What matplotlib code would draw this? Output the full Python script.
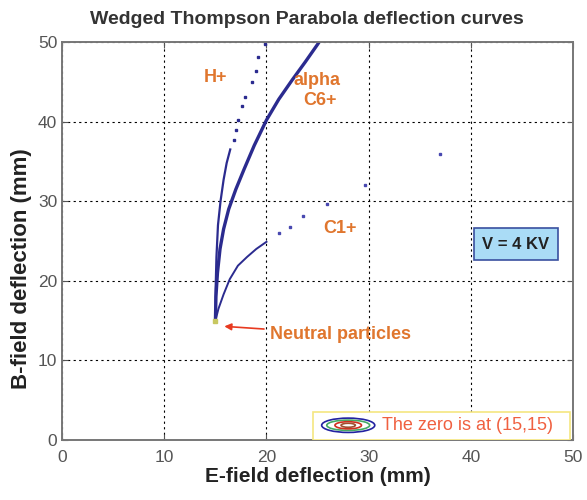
import numpy as np
import matplotlib
matplotlib.use('Agg')
import matplotlib.pyplot as plt
from matplotlib.patches import Ellipse, Rectangle

plt.rcParams['font.family'] = ['Liberation Sans', 'DejaVu Sans']

# H+ curve (dense lower part, sparse dots on top)
hp_e = [15.0, 15.02, 15.1, 15.25, 15.5, 15.8, 16.1, 16.45]
hp_b = [15.0, 19.0, 23.0, 27.0, 30.0, 32.7, 34.8, 36.5]
hp_e_dots = [16.8, 17.0, 17.25, 17.6, 17.9, 18.6, 19.0, 19.2, 19.9]
hp_b_dots = [37.7, 38.9, 40.2, 41.9, 43.1, 45.0, 46.3, 48.1, 49.7]

# alpha / C6+ curve (same q/m)
al_e = [15.0, 15.05, 15.2, 15.45, 15.8, 16.3, 17.0, 17.8, 18.8, 20.0, 21.2, 22.5, 23.8, 25.0, 25.3]
al_b = [15.0, 18.0, 21.0, 24.0, 26.5, 29.0, 31.5, 34.0, 37.0, 40.2, 42.8, 45.2, 47.5, 49.7, 50.3]

# C1+ curve
c1_e = [15.0, 15.3, 15.8, 16.4, 17.2, 18.1, 19.0, 20.0]
c1_b = [15.0, 16.5, 18.3, 20.2, 21.9, 23.0, 24.0, 24.9]
c1_e_dots = [21.2, 22.3, 23.6, 25.9, 29.6, 37.0]
c1_b_dots = [26.0, 26.8, 28.1, 29.7, 32.0, 35.9]

zero_e, zero_b = 15, 15

navy = '#2b2b8f'
orange = '#e0762e'

fig = plt.figure(figsize=(5.87, 5.0), dpi=100)
ax = fig.add_axes([0.106, 0.12, 0.87, 0.796])

ax.plot(hp_e, hp_b, color=navy, lw=1.6)
ax.plot(hp_e_dots, hp_b_dots, ls='none', marker='s', ms=1.8, color=navy)
ax.plot(al_e, al_b, color=navy, lw=2.4)
ax.plot(c1_e, c1_b, color=navy, lw=1.4)
ax.plot(c1_e_dots, c1_b_dots, ls='none', marker='s', ms=2.0, color='#4848b0')
ax.plot([zero_e], [zero_b], ls='none', marker='s', ms=3, color='#c8c860')

ax.set_xlim(0, 50)
ax.set_ylim(0, 50)
ax.set_xticks(np.arange(0, 51, 10))
ax.set_yticks(np.arange(0, 51, 10))
ax.grid(True, color='black', ls=(0, (2, 3)), lw=0.8)
ax.tick_params(direction='in', top=True, right=True, labelsize=12.5,
               labelcolor='#555555', color='#555555', length=4)
ax.tick_params(axis='x', pad=7)
for s in ax.spines.values():
    s.set_color('#777777')
    s.set_linewidth(1.4)

ax.set_title('Wedged Thompson Parabola deflection curves', fontsize=14,
             fontweight='bold', color='#333333', pad=13, x=0.48)
ax.set_xlabel('E-field deflection (mm)', fontsize=15, fontweight='bold', color='#222222', labelpad=2)
ax.set_ylabel('B-field deflection (mm)', fontsize=16, fontweight='bold', color='#222222')
ax.yaxis.set_label_coords(-0.06, 0.43)

ax.text(15.0, 45.6, 'H+', color=orange, fontsize=13, fontweight='bold', ha='center', va='center')
ax.text(24.9, 45.2, 'alpha', color=orange, fontsize=13, fontweight='bold', ha='center', va='center')
ax.text(25.2, 42.6, 'C6+', color=orange, fontsize=13, fontweight='bold', ha='center', va='center')
ax.text(27.2, 26.6, 'C1+', color=orange, fontsize=13, fontweight='bold', ha='center', va='center')

ax.annotate('Neutral particles', xy=(15.6, 14.3), xytext=(20.3, 13.3),
            color=orange, fontsize=13, fontweight='bold', va='center',
            arrowprops=dict(arrowstyle='-|>', color='#e83a20', lw=1.2, mutation_scale=10))

ax.text(44.4, 24.6, 'V = 4 KV', fontsize=12, fontweight='bold', color='#222222',
        ha='center', va='center',
        bbox=dict(boxstyle='square,pad=0.5', fc='#aadcf6', ec='#3a50a0', lw=1.2))

# legend-like box at the bottom
ax.add_patch(Rectangle((24.6, 0.0), 25.1, 3.5, fc='white', ec='#f5e680', lw=1.2, zorder=4))
for w, h, c in [(5.2, 1.8, '#2222a0'), (4.2, 1.3, '#44aa66'), (2.6, 0.9, '#d03020'), (1.4, 0.5, '#a05030')]:
    ax.add_patch(Ellipse((28.0, 1.85), w, h, fc='none', ec=c, lw=1.2, zorder=5))
ax.text(31.3, 1.85, 'The zero is at (15,15)', color='#f06040', fontsize=13,
        va='center', zorder=6)

fig.savefig('out.png', dpi=100)
